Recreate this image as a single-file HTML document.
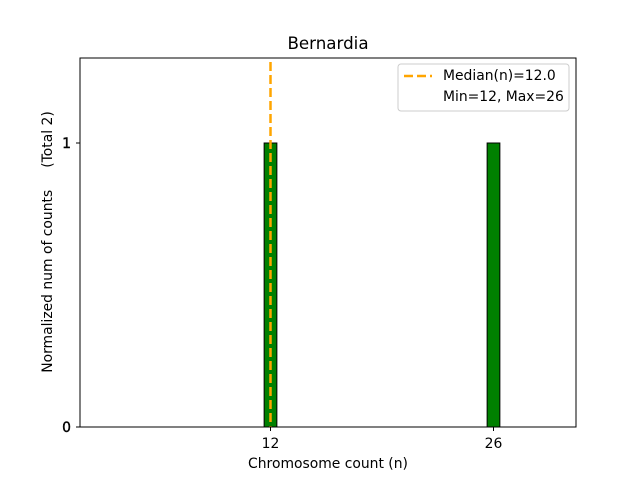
<!DOCTYPE html>
<html><head><meta charset="utf-8"><style>
body{margin:0;background:#fff;font-family:"Liberation Sans","DejaVu Sans",sans-serif;}
text{white-space:pre;}
</style></head><body>
<svg width="640" height="480" xmlns="http://www.w3.org/2000/svg" font-family="DejaVu Sans, Liberation Sans, sans-serif">
<rect width="640" height="480" fill="#fff"/>
<text x="328" y="49" font-size="16.7" text-anchor="middle">Bernardia</text>
<g id="plot"></g>
<rect x="80" y="58" width="496" height="369" fill="none" stroke="#000" stroke-width="1"/>
<text x="328" y="468" font-size="13.9" text-anchor="middle">Chromosome count (n)</text>
<text transform="translate(52,242) rotate(-90)" font-size="13.9" text-anchor="middle" xml:space="preserve">Normalized num of counts     (Total 2)</text>
<g>
<rect x="398" y="64" width="171" height="47" rx="3" fill="#fff" stroke="#ccc" fill-opacity="0.8"/>
<line x1="404" y1="76" x2="432" y2="76" stroke="orange" stroke-width="2.5" stroke-dasharray="9,4"/>
<text x="443" y="80" font-size="13.9">Median(n)=12.0</text>
<text x="443" y="101" font-size="13.9">Min=12, Max=26</text>
</g>
</svg>
<script>
const categories=[12,26];
const counts=[1,1];
const median=12.0;
const xTicks=[12,26];
const yTicks=[0,1];
const NS="http://www.w3.org/2000/svg";
const x=v=>80+(v-0.04)*496/31.14;
const y=v=>427-v*284;
const g=document.getElementById('plot');
function mk(t,a){const e=document.createElementNS(NS,t);for(const k in a)e.setAttribute(k,a[k]);return e;}
categories.forEach((c,i)=>{
 const w=0.8*496/31.14;
 const r=mk('rect',{x:x(c)-w/2,y:y(counts[i]),width:w,height:y(0)-y(counts[i]),fill:'green',stroke:'#000','stroke-width':1});
 
 
 g.appendChild(r);
});
const ml=mk('line',{x1:x(median),x2:x(median),y1:62,y2:427,stroke:'orange','stroke-width':2.5,'stroke-dasharray':'9,4'});


g.appendChild(ml);
xTicks.forEach(t=>{
 g.appendChild(mk('line',{x1:x(t),x2:x(t),y1:427,y2:431,stroke:'#000'}));
 const tx=mk('text',{x:x(t),y:448,'font-size':13.9,'text-anchor':'middle'});tx.textContent=t;
 
 
 g.appendChild(tx);
});
yTicks.forEach(t=>{
 g.appendChild(mk('line',{x1:76,x2:80,y1:y(t),y2:y(t),stroke:'#000'}));
 const tx=mk('text',{x:71,y:y(t)+5,'font-size':13.9,'text-anchor':'end',stroke:'#000','stroke-width':0.4});tx.textContent=t;
 
 
 g.appendChild(tx);
});
</script>
</body></html>
